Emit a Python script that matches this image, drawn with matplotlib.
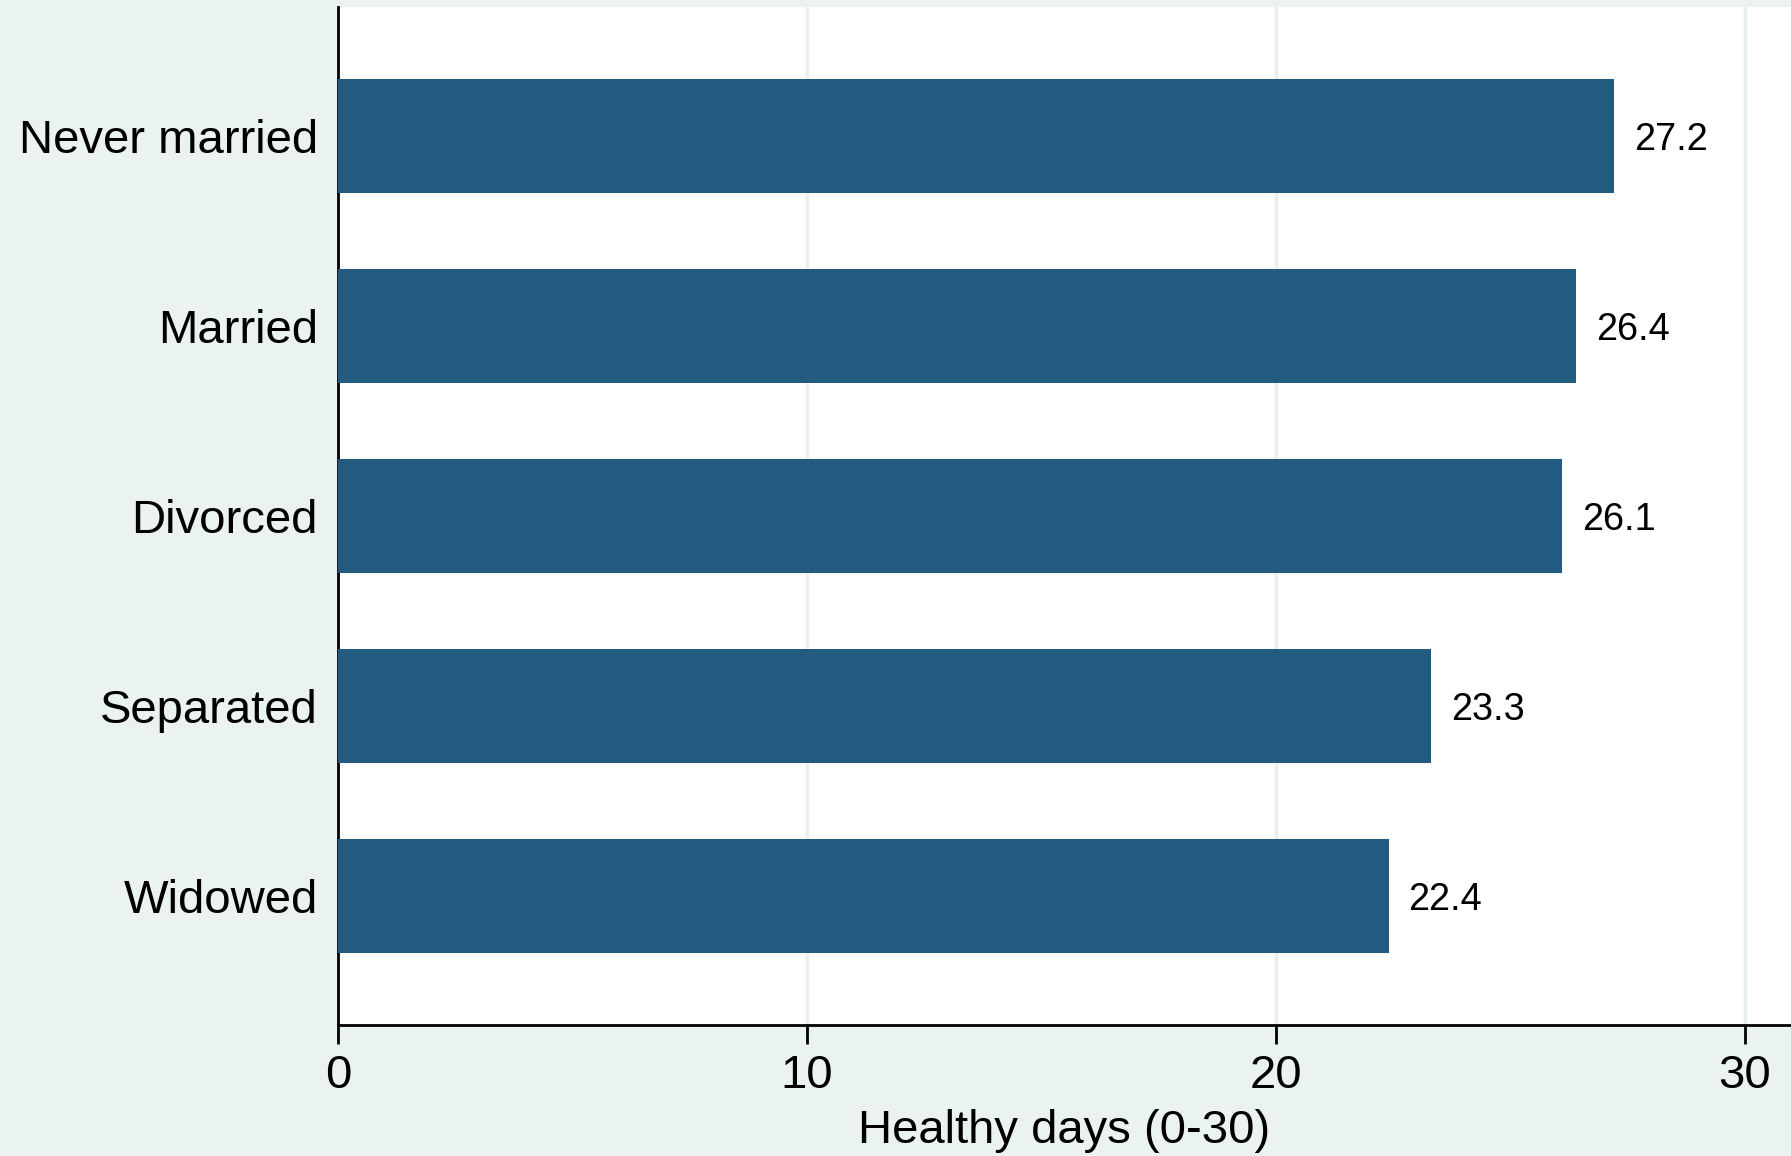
import matplotlib
matplotlib.use("Agg")
import matplotlib.pyplot as plt

categories = ["Never married", "Married", "Divorced", "Separated", "Widowed"]
values = [27.2, 26.4, 26.1, 23.3, 22.4]
xticks = [0, 10, 20, 30]
xlabel = "Healthy days (0-30)"

plt.rcParams['font.family'] = ['Liberation Sans', 'DejaVu Sans']

bg = "#EAF3F2"
bar_color = "#235A7F"
grid_color = "#E8F1F0"

fig = plt.figure(figsize=(17.91, 11.56), dpi=100, facecolor=bg)
ax = fig.add_axes([0.1887, 0.1133, 0.8113, 0.8807])
ax.set_facecolor("white")

pos = list(range(len(categories)))
bars = ax.barh(pos, values, height=0.6, color=bar_color, zorder=3)
for p, v in zip(pos, values):
    ax.annotate(f"{v:.1f}", xy=(v, p), xytext=(14.4, 0), textcoords="offset points",
                va="center_baseline", ha="left", fontsize=27.4, color="black")

ax.set_ylim(4.68, -0.68)
ax.set_xlim(0, 30.98)
ax.set_yticks(pos)
ax.set_yticklabels(categories, fontsize=34)
ax.set_xticks(xticks)
ax.set_xticklabels([str(t) for t in xticks], fontsize=34)
ax.tick_params(axis="y", length=0, pad=14.5)
ax.tick_params(axis="x", length=14, width=2, pad=7)
ax.set_xlabel(xlabel, fontsize=34, labelpad=8)

ax.xaxis.grid(True, color=grid_color, linewidth=2.5, zorder=0)
ax.set_axisbelow(True)
for s in ["top", "right"]:
    ax.spines[s].set_visible(False)
for s in ["left", "bottom"]:
    ax.spines[s].set_linewidth(2)
    ax.spines[s].set_color("black")

fig.savefig("out.png", dpi=100, facecolor=bg)
